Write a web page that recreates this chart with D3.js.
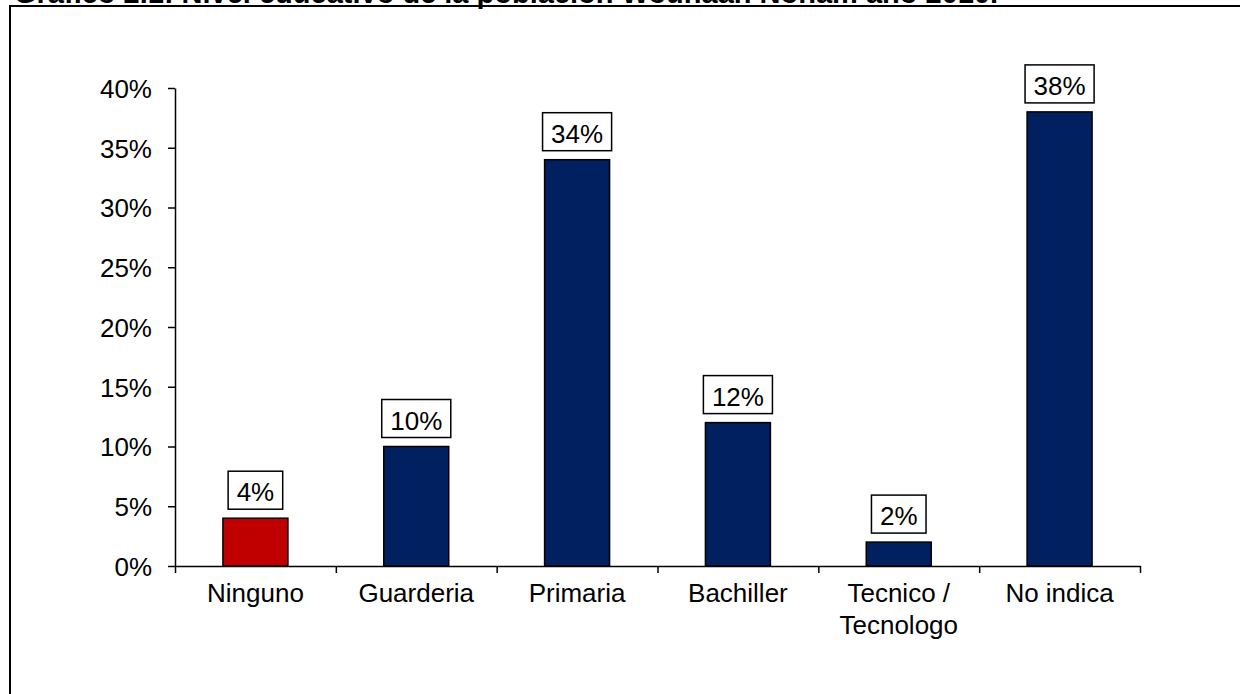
<!DOCTYPE html>
<html>
<head>
<meta charset="utf-8">
<script src="https://cdn.jsdelivr.net/npm/d3@7"></script>
<style>
  body { margin: 0; background: #fff; }
  svg text { font-family: Arial, "Liberation Sans", sans-serif; fill: #000; }
  .axis path, .axis line { stroke: #000; stroke-width: 1.5; }
</style>
</head>
<body>
<div id="chart"></div>
<script>
// Nivel educativo de la poblacion Wounaan Nonam

var categories = ["Ninguno", "Guarderia", "Primaria", "Bachiller", "Tecnico /\nTecnologo", "No indica"];
var values = [0.04, 0.10, 0.34, 0.12, 0.02, 0.38];
var yTicks = [0, 0.05, 0.10, 0.15, 0.20, 0.25, 0.30, 0.35, 0.40];
var highlight = "Ninguno";

var width = 1240;
var height = 694;

var svg = d3.select('#chart')
    .append('svg')
    .attr('width', width)
    .attr('height', height);

var margin = { top: 88, left: 175, right: 100, bottom: 128 };
var innerW = width - margin.left - margin.right;   // 965
var innerH = height - margin.top - margin.bottom;  // 478

// frame (only top and left visible in the picture)
svg.append('rect')
    .attr('x', 10)
    .attr('y', 6)
    .attr('width', 1250)
    .attr('height', 700)
    .attr('fill', 'none')
    .attr('stroke', '#000')
    .attr('stroke-width', 2);

// title, mostly cut off at the top (as in the source picture)
svg.append('text')
    .attr('x', 14)
    .attr('y', 3)
    .style('font-size', '29px')
    .style('font-weight', 'bold')
    .text('Grafico 2.1: Nivel educativo de la población Wounaan Nonam año 2010.');

var g = svg.append('g')
    .attr('transform', 'translate(' + margin.left + ',' + margin.top + ')');

var x = d3.scaleBand()
    .domain(categories)
    .range([0, innerW])
    .padding(0);

var xEdge = d3.scaleLinear()
    .domain([0, categories.length])
    .range([0, innerW]);

var y = d3.scaleLinear()
    .domain([0, 0.40])
    .range([innerH, 0]);

// y axis
var yAxis = d3.axisLeft(y)
    .tickValues(yTicks)
    .tickSize(7)
    .tickSizeOuter(0)
    .tickPadding(16)
    .tickFormat(d3.format('.0%'));

g.append('g')
    .attr('class', 'axis axis-y')
    .call(yAxis)
    .selectAll('text')
    .style('font-size', '26px')
    .attr('dy', '0.36em');

// x axis: ticks on the category edges
var xAxis = d3.axisBottom(xEdge)
    .tickValues(d3.range(categories.length + 1))
    .tickSize(7)
    .tickSizeOuter(0)
    .tickFormat('');

g.append('g')
    .attr('class', 'axis axis-x')
    .attr('transform', 'translate(0,' + innerH + ')')
    .call(xAxis);

// category labels
var labels = g.append('g')
    .selectAll('text')
    .data(categories)
    .enter()
    .append('text')
    .attr('x', function(d) { return x(d) + x.bandwidth() / 2; })
    .attr('y', innerH + 36)
    .style('font-size', '26px')
    .style('text-anchor', 'middle');

labels.selectAll('tspan')
    .data(function(d) { return d.split('\n').map(function(t) { return { t: t, c: d }; }); })
    .enter()
    .append('tspan')
    .attr('x', function(d) { return x(d.c) + x.bandwidth() / 2; })
    .attr('dy', function(d, i) { return i === 0 ? 0 : 32; })
    .text(function(d) { return d.t; });

// bars
var barW = x.bandwidth() * 0.404;
var bars = g.selectAll('.bar')
    .data(categories)
    .enter()
    .append('g')
    .attr('class', 'bar');

bars.append('rect')
    .attr('x', function(d) { return x(d) + (x.bandwidth() - barW) / 2; })
    .attr('y', function(d, i) { return y(values[i]); })
    .attr('width', barW)
    .attr('height', function(d, i) { return innerH - y(values[i]); })
    .attr('fill', function(d) { return d === highlight ? '#C00000' : '#00205F'; })
    .attr('stroke', '#000')
    .attr('stroke-width', 1.5);

// value labels in boxes
var fmt = d3.format('.0%');
bars.each(function(d, i) {
  var cx = x(d) + x.bandwidth() / 2;
  var top = y(values[i]);
  var grp = d3.select(this);
  var txt = grp.append('text')
      .attr('x', cx)
      .attr('y', top - 17)
      .style('font-size', '26px')
      .style('text-anchor', 'middle')
      .text(fmt(values[i]));
  var w = txt.node().getComputedTextLength() + 17;
  grp.insert('rect', 'text')
      .attr('x', cx - w / 2)
      .attr('y', top - 47)
      .attr('width', w)
      .attr('height', 38)
      .attr('fill', '#fff')
      .attr('stroke', '#000')
      .attr('stroke-width', 1.5);
});
</script>
</body>
</html>
